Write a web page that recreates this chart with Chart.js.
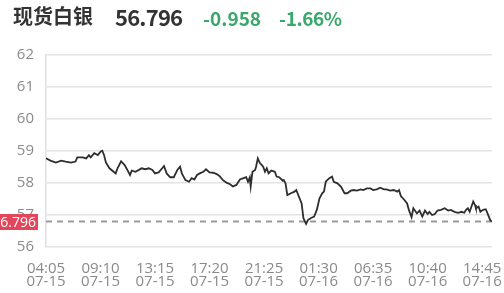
<!DOCTYPE html>
<html>
<head>
<meta charset="utf-8">
<script src="https://cdn.jsdelivr.net/npm/chart.js@4"></script>
<style>
  html, body { margin: 0; padding: 0; background: #fff; }
  #wrap { position: relative; width: 504px; height: 293px; }
  #hdr span { position: absolute; white-space: nowrap; font-family: "Noto Sans CJK SC", "Noto Sans", sans-serif; font-weight: 700; line-height: 1; }
  #name { left: 13px; top: 6px; font-size: 20px; color: #333; }
  #price { left: 115px; top: 5px; font-size: 22px; letter-spacing: -0.8px; color: #333; }
  #chg { left: 203px; top: 8px; font-size: 19px; color: #3aa86b; }
  #pct { left: 279px; top: 8px; font-size: 19px; letter-spacing: -0.4px; color: #3aa86b; }
</style>
</head>
<body>
<div id="wrap">
  <canvas id="chart-silver" width="504" height="293"></canvas>
  <div id="hdr">
    <span id="name">现货白银</span>
    <span id="price">56.796</span>
    <span id="chg">-0.958</span>
    <span id="pct">-1.66%</span>
  </div>
</div>
<script>
// trading minutes since 04:05 07-15 (one label every 305 min)
var minutes = [0, 25, 55, 85, 110, 140, 165, 175, 205, 225, 240, 250, 270, 290, 305, 315, 325, 335, 355, 370,
  390, 400, 420, 440, 455, 470, 480, 500, 520, 535, 555, 575, 595, 610, 630, 650, 660, 675, 695, 715,
  735, 750, 760, 780, 800, 815, 830, 845, 860, 880, 895, 915, 935, 955, 970, 990, 1010, 1030, 1045, 1065,
  1085, 1105, 1120, 1130, 1140, 1145, 1155, 1170, 1175, 1185, 1195, 1215, 1225, 1235, 1245, 1260, 1280, 1290, 1305, 1325,
  1330, 1340, 1350, 1370, 1390, 1400, 1415, 1430, 1440, 1455, 1465, 1480, 1500, 1515, 1530, 1545, 1555, 1565, 1585, 1600,
  1610, 1630, 1650, 1670, 1685, 1705, 1720, 1740, 1760, 1775, 1795, 1815, 1830, 1850, 1870, 1890, 1905, 1925, 1945, 1965,
  1975, 1985, 2005, 2020, 2030, 2045, 2055, 2075, 2090, 2105, 2120, 2135, 2145, 2160, 2175, 2190, 2210, 2230, 2250, 2265,
  2285, 2305, 2325, 2340, 2350, 2360, 2370, 2390, 2400, 2405, 2420, 2430, 2445, 2460, 2470, 2485, 2495];
var prices = [58.77, 58.70, 58.64, 58.70, 58.67, 58.64, 58.67, 58.80, 58.80, 58.77, 58.87, 58.80, 58.93, 58.87, 58.98, 59.01, 58.87, 58.64, 58.46, 58.39,
  58.30, 58.46, 58.68, 58.56, 58.41, 58.25, 58.39, 58.35, 58.41, 58.46, 58.43, 58.46, 58.41, 58.30, 58.33, 58.46, 58.53, 58.30, 58.18, 58.18,
  58.41, 58.51, 58.30, 58.09, 58.04, 58.15, 58.11, 58.25, 58.30, 58.35, 58.43, 58.33, 58.32, 58.28, 58.22, 58.09, 58.01, 57.96, 57.89, 57.94,
  58.11, 58.15, 58.18, 58.04, 58.18, 57.89, 58.35, 58.41, 58.51, 58.77, 58.64, 58.51, 58.35, 58.46, 58.30, 58.39, 58.35, 58.20, 58.18, 58.07,
  58.09, 57.99, 57.62, 57.68, 57.73, 57.78, 57.57, 57.36, 56.90, 56.72, 56.84, 56.90, 56.95, 57.16, 57.52, 57.68, 57.73, 58.04, 58.15, 58.20,
  58.04, 57.99, 57.89, 57.68, 57.68, 57.76, 57.78, 57.76, 57.80, 57.78, 57.83, 57.83, 57.78, 57.80, 57.85, 57.80, 57.80, 57.76, 57.78, 57.73,
  57.78, 57.59, 57.47, 57.36, 57.16, 56.93, 57.21, 57.05, 57.14, 56.95, 57.14, 57.03, 57.10, 57.00, 57.03, 57.14, 57.16, 57.21, 57.14, 57.16,
  57.10, 57.07, 57.10, 57.07, 57.16, 57.21, 57.10, 57.42, 57.31, 57.21, 57.26, 57.10, 57.16, 57.18, 57.05, 56.84, 56.796];
var tickTimes = ['04:05', '09:10', '13:15', '17:20', '21:25', '01:30', '06:35', '10:40', '14:45'];
var tickDates = ['07-15', '07-15', '07-15', '07-15', '07-15', '07-16', '07-16', '07-16', '07-16'];
var tickStep = 305;
var lastPrice = 56.796;

var points = minutes.map(function (m, i) { return { x: m, y: prices[i] }; });
var lastX = minutes[minutes.length - 1];

var priceTag = {
  id: 'priceTag',
  afterDraw: function (chart) {
    var c = chart.ctx;
    var y = chart.scales.y.getPixelForValue(lastPrice);
    c.save();
    c.fillStyle = '#e2465a';
    c.fillRect(0, Math.round(y) - 8, 38, 16);
    c.fillStyle = '#fff';
    c.font = '14px "Open Sans"';
    c.textAlign = 'right';
    c.textBaseline = 'middle';
    c.fillText(lastPrice.toFixed(3), 36, Math.round(y) + 1);
    c.restore();
  }
};

var ctx = document.getElementById('chart-silver').getContext('2d');
new Chart(ctx, {
  type: 'line',
  data: {
    datasets: [{
      data: points,
      borderColor: '#2e2e2e',
      borderWidth: 1.8,
      pointRadius: 0,
      tension: 0,
      fill: false
    }, {
      data: [{ x: 0, y: lastPrice }, { x: lastX, y: lastPrice }],
      borderColor: '#9a9a9a',
      borderWidth: 2,
      borderDash: [6, 5],
      pointRadius: 0,
      fill: false
    }]
  },
  plugins: [priceTag],
  options: {
    responsive: false,
    animation: false,
    layout: { padding: { top: 55, right: 12, left: 0, bottom: 0 } },
    plugins: { legend: { display: false }, tooltip: { enabled: false } },
    scales: {
      x: {
        type: 'linear',
        min: 0,
        max: lastX,
        afterFit: function (s) {
          s.height = 46;
          s.paddingLeft = 0;
          s.paddingRight = 0;
        },
        afterBuildTicks: function (s) {
          s.ticks = tickTimes.map(function (t, i) { return { value: i * tickStep }; });
        },
        grid: { display: false, drawTicks: false },
        border: { display: false },
        ticks: {
          autoSkip: false,
          maxRotation: 0,
          padding: 15,
          color: '#8a8a8a',
          font: { size: 15, family: 'Open Sans', lineHeight: '13px' },
          callback: function (v) {
            var i = Math.round(v / tickStep);
            return [tickTimes[i], tickDates[i]];
          }
        }
      },
      y: {
        min: 56,
        max: 62,
        afterFit: function (s) { s.width = 46; },
        grid: { color: '#e3e3e3', lineWidth: 1.5, drawTicks: false },
        border: { display: true, color: '#e0e0e0', width: 1.5 },
        ticks: {
          stepSize: 1,
          padding: 12,
          color: '#8a8a8a',
          font: { size: 15, family: 'Open Sans' }
        }
      }
    }
  }
});
</script>
</body>
</html>
